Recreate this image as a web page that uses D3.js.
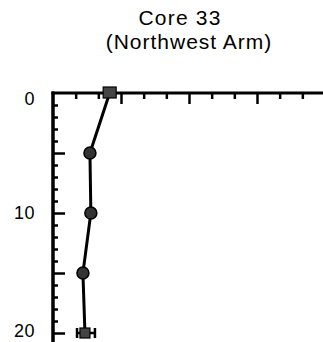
<!DOCTYPE html>
<html><head><meta charset="utf-8">
<script src="https://cdn.jsdelivr.net/npm/d3@7"></script>
<style>html,body{margin:0;padding:0;background:#fff;overflow:hidden}</style>
</head><body>
<script>
const title1 = "Core 33";
const title2 = "(Northwest Arm)";
const depths = [0, 5, 10, 15, 20];
const values = [0.25, 0.163, 0.167, 0.132, 0.141];
const markers = ["square", "circle", "circle", "circle", "squareErr"];
const errLow = [null, null, null, null, 0.106];
const errHigh = [null, null, null, null, 0.185];
const yTickLabels = [0, 10, 20];

const W = 323, H = 342;
const svg = d3.select("body").append("svg").attr("width", W).attr("height", H);

const x = d3.scaleLinear().domain([0, 1.2]).range([53, 325]);
const y = d3.scaleLinear().domain([0, 20]).range([93, 333]);

svg.append("text").attr("x", 180).attr("y", 25).attr("text-anchor", "middle")
  .style("font-family", "Liberation Sans, Arial, sans-serif").style("font-size", "21px")
  .style("letter-spacing", "1.2px").text(title1);
svg.append("text").attr("x", 189).attr("y", 49).attr("text-anchor", "middle")
  .style("font-family", "Liberation Sans, Arial, sans-serif").style("font-size", "21px")
  .style("letter-spacing", "1px").text(title2);

// top axis
const topAxis = d3.axisBottom(x).tickValues(d3.range(1, 13).map(i => i / 10)).tickSize(6).tickFormat("");
const gT = svg.append("g").attr("transform", `translate(0,${y(0)})`).call(topAxis);
gT.select(".domain").remove();
gT.selectAll(".tick line").attr("stroke", "#000").attr("stroke-width", 2.5)
  .attr("y2", d => (Math.round(d * 10) % 3 === 0) ? 11 : 6);
svg.append("line").attr("x1", x(0) - 1.5).attr("x2", W).attr("y1", y(0)).attr("y2", y(0))
  .attr("stroke", "#000").attr("stroke-width", 3);

// left axis
const leftAxis = d3.axisRight(y).tickValues(d3.range(1, 21)).tickSize(5).tickFormat("");
const gL = svg.append("g").attr("transform", `translate(${x(0)},0)`).call(leftAxis);
gL.select(".domain").remove();
gL.selectAll(".tick line").attr("stroke", "#000").attr("stroke-width", 2.5)
  .attr("x2", d => (d % 5 === 0) ? 12 : 5);
svg.append("line").attr("x1", x(0)).attr("x2", x(0)).attr("y1", y(0) - 1.5).attr("y2", H)
  .attr("stroke", "#000").attr("stroke-width", 3.5);

svg.selectAll("text.yl").data(yTickLabels).enter().append("text").attr("class", "yl")
  .attr("x", 35).attr("y", d => y(d) + (d === 0 ? 12 : d === 20 ? 4 : 6))
  .attr("text-anchor", "end")
  .style("font-family", "Liberation Sans, Arial, sans-serif").style("font-size", "18px")
  .style("font-weight", "500").style("letter-spacing", "0.5px")
  .text(d => d);

// line
const pts = depths.map((d, i) => ({d, v: values[i], m: markers[i], lo: errLow[i], hi: errHigh[i]}));
svg.append("path").datum(pts)
  .attr("d", d3.line().x(p => x(p.v)).y(p => y(p.d)))
  .attr("fill", "none").attr("stroke", "#000").attr("stroke-width", 3);

pts.forEach(p => {
  const cx = x(p.v), cy = y(p.d);
  if (p.m === "circle") {
    svg.append("circle").attr("cx", cx).attr("cy", cy).attr("r", 6)
      .attr("fill", "#333").attr("stroke", "#000").attr("stroke-width", 1.5);
  } else if (p.m === "square") {
    svg.append("rect").attr("x", cx - 6.5).attr("y", cy - 6).attr("width", 13).attr("height", 11)
      .attr("fill", "#444").attr("stroke", "#000").attr("stroke-width", 1.2);
  } else {
    const xl = x(p.lo), xh = x(p.hi);
    svg.append("line").attr("x1", xl).attr("x2", xh).attr("y1", cy).attr("y2", cy)
      .attr("stroke", "#000").attr("stroke-width", 2.5);
    [xl, xh].forEach(xx => svg.append("line").attr("x1", xx).attr("x2", xx)
      .attr("y1", cy - 5).attr("y2", cy + 5).attr("stroke", "#000").attr("stroke-width", 2.5));
    svg.append("rect").attr("x", cx - 5).attr("y", cy - 5).attr("width", 10).attr("height", 10)
      .attr("fill", "#444").attr("stroke", "#000").attr("stroke-width", 1.2);
  }
});
</script>
</body></html>
